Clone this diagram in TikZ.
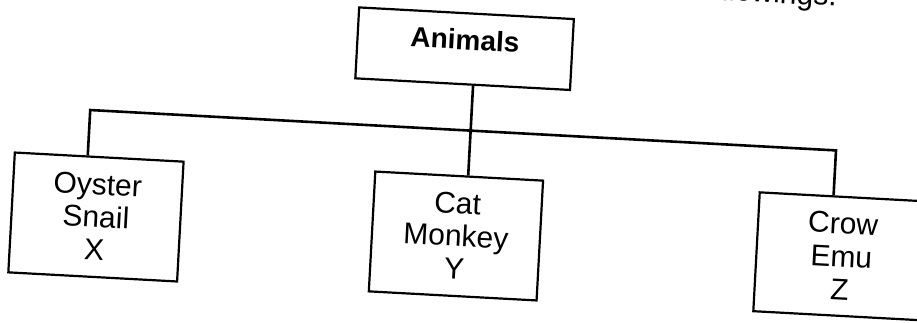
\documentclass[tikz,border=0pt]{standalone}
\usepackage{fontspec}
\setmainfont{Liberation Sans}
\begin{document}
\begin{tikzpicture}[x=1pt,y=-1pt,
  box/.style={draw,line width=2.2pt,inner sep=0pt,align=center,
    font=\fontsize{30}{33}\selectfont},
  link/.style={line width=2.6pt}]
\useasboundingbox (0,0) rectangle (917,323);
\clip (0,0) rectangle (917,323);
\begin{scope}[rotate around={-3.1:(458,161)},transform shape]
  \node[box,minimum width=215pt,minimum height=71pt,
        font=\fontsize{28}{30}\selectfont\bfseries,
        text height=20pt,text depth=18pt] (animals) at (458.5,48.5) {Animals};
  \node[box,minimum width=169pt,minimum height=120pt] (oyster) at (99.5,236.5) {Oyster\\Snail\\X};
  \node[box,minimum width=168pt,minimum height=120pt] (cat) at (460,236) {Cat\\Monkey\\Y};
  \node[box,minimum width=170pt,minimum height=119pt] (crow) at (846,235.5) {Crow\\Emu\\Z};
  \node[anchor=base east,font=\fontsize{30}{33}\selectfont] (note) at (831,-14) {followings.};
  \coordinate (bus) at (0,130);
  \coordinate (oj) at ([xshift=-11.5pt]oyster.north);
  \coordinate (zj) at ([xshift=-11pt]crow.north);
  \draw[link] ([xshift=10.5pt]animals.south) -- ([xshift=9pt]cat.north);
  \draw[link] (oj) -- (oj |- bus) -- (zj |- bus) -- (zj);
\end{scope}
\end{tikzpicture}
\end{document}
